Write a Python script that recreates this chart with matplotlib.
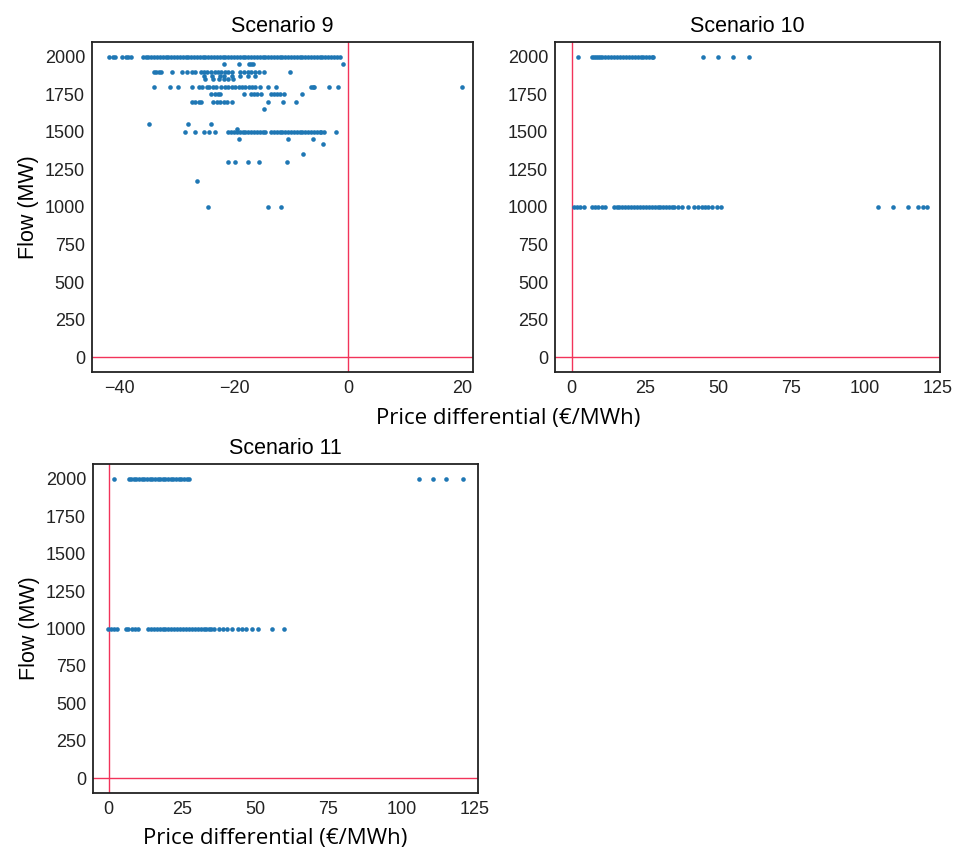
import numpy as np
import matplotlib.pyplot as plt

# Flow levels (MW) and the price differentials (EUR/MWh) observed at each one

# Scenario 9
s9_2000 = [-42.0, -41.3, -40.8, -39.6, -39.0, -38.5, -38.1,
           -36.0, -35.5, -35.0, -34.5, -34.0, -33.5, -33.0, -32.5, -32.0, -31.5,
           -31.0, -30.5, -30.0, -29.5, -29.0, -28.5, -28.0, -27.5, -27.0, -26.5,
           -26.0, -25.5, -25.0, -24.5, -24.0, -23.5, -23.0, -22.5, -22.0, -21.5,
           -21.0, -20.5, -20.0, -19.5, -19.0, -18.5, -18.0, -17.5, -17.0, -16.5,
           -16.0, -15.5, -15.0, -14.5, -14.0, -13.5, -13.0, -12.5, -12.0, -11.5,
           -11.0, -10.5, -10.0, -9.5, -9.0, -8.5, -8.0, -7.5, -7.0, -6.5, -6.0,
           -5.5, -5.0, -4.5, -4.0, -3.5, -3.0, -2.5, -2.0, -1.5]
s9_1950 = [-21.7, -19.2, -17.4, -17.0, -16.6, -0.9]
s9_1900 = [-34.0, -33.6, -33.2, -32.8, -30.9, -29.2, -28.3, -27.4, -26.9, -25.7,
           -25.2, -24.8, -24.0, -23.4, -22.8, -22.2, -21.6, -21.0, -20.4, -19.0,
           -18.3, -17.6, -17.0, -16.4, -15.7, -14.7, -10.1]
s9_1870 = [-25.3, -23.9, -22.5, -21.7, -20.4, -19.0, -17.5, -16.4]
s9_1850 = [-25.1, -23.6, -22.7, -21.8, -21.0, -20.1]
s9_1800 = [-34.0, -31.3, -29.9, -27.4, -26.2, -25.6, -24.8, -24.3, -23.7, -23.1,
           -22.2, -21.6, -21.0, -20.4, -19.8, -19.2, -18.6, -18.0, -17.4, -16.8,
           -16.4, -15.5, -14.0, -12.6, -6.5, -6.2, -5.9, -3.3, -1.7, 20.0]
s9_1750 = [-24.0, -23.4, -22.8, -22.5, -18.2, -17.0, -16.5, -16.0, -15.2, -13.5,
           -13.0, -12.5, -11.9, -11.2, -8.0]
s9_1700 = [-27.4, -26.9, -26.2, -25.7, -23.6, -23.0, -22.4, -21.8, -21.2, -20.4,
           -14.1, -11.4, -9.1]
s9_1650 = [-14.7]
s9_1550 = [-34.9, -28.0, -24.1]
s9_1520 = [-19.4]
s9_1500 = [-28.6, -26.9, -25.3, -24.3, -23.4,
           -21.0, -20.5, -20.0, -19.5, -19.0, -18.5, -18.0, -17.5, -17.0, -16.5,
           -16.0, -15.5, -15.0, -14.5, -13.5, -13.0, -12.5, -12.0, -11.5, -11.0,
           -10.5, -10.0, -9.5, -9.0, -8.5, -8.0, -7.5, -7.0, -6.5, -6.0, -5.5,
           -5.0, -4.7, -4.2, -2.1]
s9_1450 = [-19.2, -10.5, -6.1]
s9_1420 = [-4.4]
s9_1350 = [-7.9]
s9_1300 = [-21.0, -19.9, -17.5, -15.7, -10.7]
s9_1170 = [-26.5]
s9_1000 = [-24.5, -14.0, -11.7]

# Scenario 10
s10_2000 = [2.3, 6.8, 7.5, 8.3, 9.0, 9.8, 10.5, 11.5, 12.5, 13.5, 14.5, 15.5,
            16.5, 17.5, 18.5, 19.5, 20.5, 21.5, 22.5, 23.5, 24.5, 25.5, 26.5,
            27.3, 27.9, 45.0, 50.0, 55.0, 60.5]
s10_1000 = [0.7, 1.7, 2.7, 4.1, 6.8, 7.8, 9.0, 10.2, 11.2, 14.3, 15.3, 16.3,
            17.3, 18.3, 19.3, 20.3, 21.3, 22.3, 23.3, 24.3, 25.3, 26.3, 27.3,
            28.3, 29.3, 30.3, 31.3, 32.3, 33.3, 34.2, 35.0, 36.3, 37.5, 39.7,
            41.8, 43.0, 44.5, 45.5, 46.5, 48.0, 49.5, 51.0,
            104.6, 109.7, 114.8, 118.2, 119.9, 121.3]

# Scenario 11
s11_2000 = [1.7, 6.9, 7.8, 8.6, 9.5, 10.4, 11.3, 12.2, 13.1, 14.0, 14.9, 15.8,
            16.7, 17.6, 18.5, 19.4, 20.3, 21.2, 22.1, 23.0, 23.9, 24.8, 25.7,
            26.6, 27.5, 106.0, 110.6, 115.0, 121.0]
s11_1000 = [-0.3, 0.7, 1.8, 3.0, 5.8, 6.8, 8.0, 9.0, 10.0, 13.4, 14.4, 15.4,
            16.4, 17.4, 18.4, 19.4, 20.4, 21.4, 22.4, 23.4, 24.4, 25.4, 26.4,
            27.4, 28.4, 29.4, 30.4, 31.4, 32.4, 33.4, 34.2, 35.0, 36.0, 37.5,
            39.0, 40.5, 42.0, 44.0, 45.5, 47.0, 49.0, 51.0, 55.6, 60.0]

scenarios = [
    ("Scenario 9", [(2000, s9_2000), (1950, s9_1950), (1900, s9_1900),
                    (1870, s9_1870), (1850, s9_1850), (1800, s9_1800),
                    (1750, s9_1750), (1700, s9_1700), (1650, s9_1650),
                    (1550, s9_1550), (1520, s9_1520), (1500, s9_1500),
                    (1450, s9_1450), (1420, s9_1420), (1350, s9_1350),
                    (1300, s9_1300), (1170, s9_1170), (1000, s9_1000)]),
    ("Scenario 10", [(2000, s10_2000), (1000, s10_1000)]),
    ("Scenario 11", [(2000, s11_2000), (1000, s11_1000)]),
]

x_ticks = [[-40, -20, 0, 20], [0, 25, 50, 75, 100, 125], [0, 25, 50, 75, 100, 125]]
x_lims = [(-44.9, 21.9), (-5.7, 125.8), (-5.3, 126.0)]
y_ticks = [0, 250, 500, 750, 1000, 1250, 1500, 1750, 2000]

plt.rcParams['font.family'] = ['Liberation Sans', 'DejaVu Sans']

fig = plt.figure(figsize=(9.55, 8.55), dpi=100)
boxes = [[0.0963, 0.5649, 0.3990, 0.3860],
         [0.5812, 0.5649, 0.4031, 0.3860],
         [0.0974, 0.0725, 0.4031, 0.3848]]

for i, (title, levels) in enumerate(scenarios):
    ax = fig.add_axes(boxes[i])
    price = np.concatenate([np.asarray(p, dtype=float) for _, p in levels])
    flow = np.concatenate([np.full(len(p), f, dtype=float) for f, p in levels])
    ax.scatter(price, flow, s=11, color='#1f77b4', linewidths=0, zorder=3)
    ax.axvline(0, color='#f2335a', linewidth=1.0, zorder=2)
    ax.axhline(0, color='#f2335a', linewidth=1.0, zorder=2)
    ax.set_xlim(*x_lims[i])
    ax.set_ylim(-100, 2100)
    ax.set_xticks(x_ticks[i])
    ax.set_yticks(y_ticks)
    ax.tick_params(axis='both', length=0, labelsize=13, colors='#222222')
    ax.tick_params(axis='y', pad=5)
    ax.tick_params(axis='x', pad=6)
    for sp in ax.spines.values():
        sp.set_color('#222222')
        sp.set_linewidth(1.3)
    ax.set_title(title, fontsize=15.5, pad=7)
    if i != 1:
        ax.set_ylabel('Flow (MW)', fontsize=15.5, labelpad=4)

fig.text(508 / 955, 1 - 418 / 855, 'Price differential (€/MWh)', ha='center',
         va='center', fontsize=16, family=['Open Sans', 'DejaVu Sans'])
fig.text(275 / 955, 1 - 838 / 855, 'Price differential (€/MWh)', ha='center',
         va='center', fontsize=16, family=['Open Sans', 'DejaVu Sans'])

fig.savefig('out.png', dpi=100)
